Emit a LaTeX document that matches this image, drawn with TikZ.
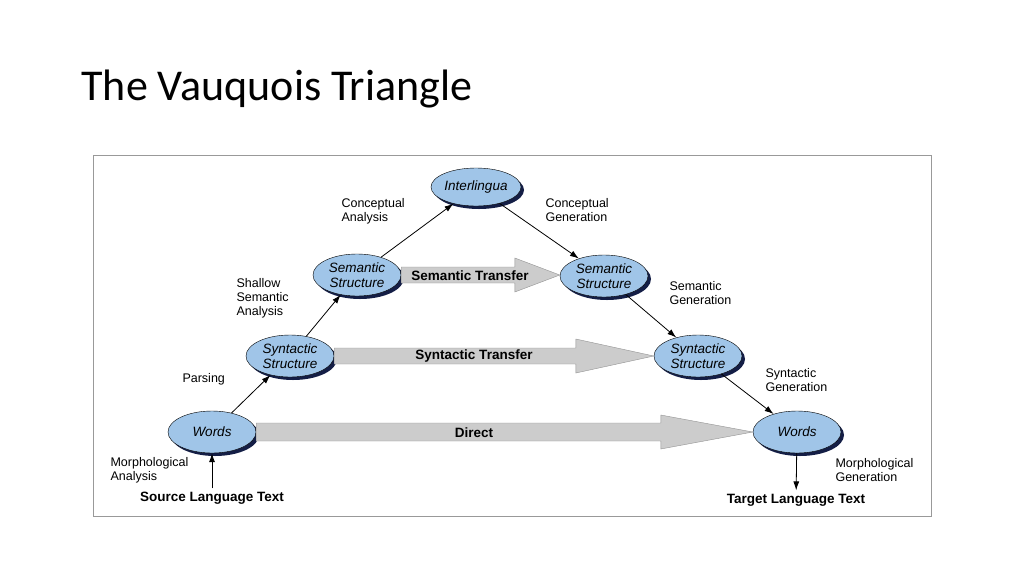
\documentclass[tikz,border=0pt]{standalone}
\usepackage{fontspec}
\setmainfont{Liberation Sans}
\newfontfamily\titlefont{Carlito}
\usetikzlibrary{shadows,calc,shapes.geometric,arrows.meta}
\definecolor{nodeblue}{RGB}{160,197,232}
\definecolor{shadowblue}{RGB}{20,30,70}
\tikzset{
  level/.style={ellipse,draw=black,fill=nodeblue,minimum width=88pt,minimum height=42pt,inner sep=0pt,
    align=center,font=\fontsize{13.5}{15}\selectfont\itshape,
    drop shadow={shadow xshift=3pt,shadow yshift=-3pt,fill=shadowblue,opacity=1}},
  step label/.style={align=left,anchor=west,font=\fontsize{12.5}{14}\selectfont},
  link/.style={-{Latex[length=9pt,width=6pt]},line width=0.8pt},
  transfer text/.style={font=\fontsize{13.5}{15}\selectfont\bfseries}
}
\newcommand\transfer[4]{% from, to, head length, shaft half
  \path let \p1=(#1.east), \p2=(#2.west) in
    [fill=gray!40,draw=gray!85] (\x1,\y1+#4) -- (\x2-#3,\y1+#4) -- (\x2-#3,\y1+17pt) -- (\x2,\y1)
    -- (\x2-#3,\y1-17pt) -- (\x2-#3,\y1-#4) -- (\x1,\y1-#4) -- cycle;
}
\begin{document}
\begin{tikzpicture}[x=1pt,y=-1pt]
  \useasboundingbox (0,0) rectangle (1024,576);
  \node[anchor=base west,font=\titlefont\fontsize{44}{48}\selectfont] (title) at (78,100) {The Vauquois Triangle};
  \draw[gray!80] (93,155) rectangle (931,516);

% levels
  \node[level,minimum width=90pt,minimum height=38pt] (inter) at (476,187) {Interlingua};
  \node[level] (semL) at (357,275) {Semantic\\Structure};
  \node[level] (semR) at (604,276) {Semantic\\Structure};
  \node[level] (synL) at (290,356) {Syntactic\\Structure};
  \node[level] (synR) at (698,356) {Syntactic\\Structure};
  \node[level] (wordL) at (212,432) {Words};
  \node[level] (wordR) at (797,432) {Words};

% transfers
  \transfer{semL}{semR}{45pt}{8pt}
  \transfer{synL}{synR}{78pt}{8pt}
  \transfer{wordL}{wordR}{92pt}{9pt}
  \node[transfer text] (semT) at (470,276) {Semantic Transfer};
  \node[transfer text] (synT) at (474,356) {Syntactic Transfer};
  \node[transfer text] (dirT) at (474,433) {Direct};

% end texts
  \node[font=\fontsize{13.5}{15}\selectfont\bfseries] (src) at (212,498) {Source Language Text};
  \node[font=\fontsize{13.5}{15}\selectfont\bfseries] (tgt) at (796,500) {Target Language Text};

% steps
  \draw[link] (src) -- (wordL);
  \draw[link] (wordL) -- (synL);
  \draw[link] (synL) -- (semL);
  \draw[link] (semL) -- (inter);
  \draw[link] (inter) -- (semR);
  \draw[link] (semR) -- (synR);
  \draw[link] (synR) -- (wordR);
  \draw[link] (wordR) -- (tgt);

  \node[step label] (ca) at (338,211) {Conceptual\\Analysis};
  \node[step label] (cg) at (542,210) {Conceptual\\Generation};
  \node[step label] (ssa) at (233,298) {Shallow\\Semantic\\Analysis};
  \node[step label] (sg) at (666,293) {Semantic\\Generation};
  \node[step label] (pa) at (179,379) {Parsing};
  \node[step label] (syg) at (762,380) {Syntactic\\Generation};
  \node[step label] (ma) at (107,470) {Morphological\\Analysis};
  \node[step label] (mg) at (832,470) {Morphological\\Generation};
\end{tikzpicture}
\end{document}
